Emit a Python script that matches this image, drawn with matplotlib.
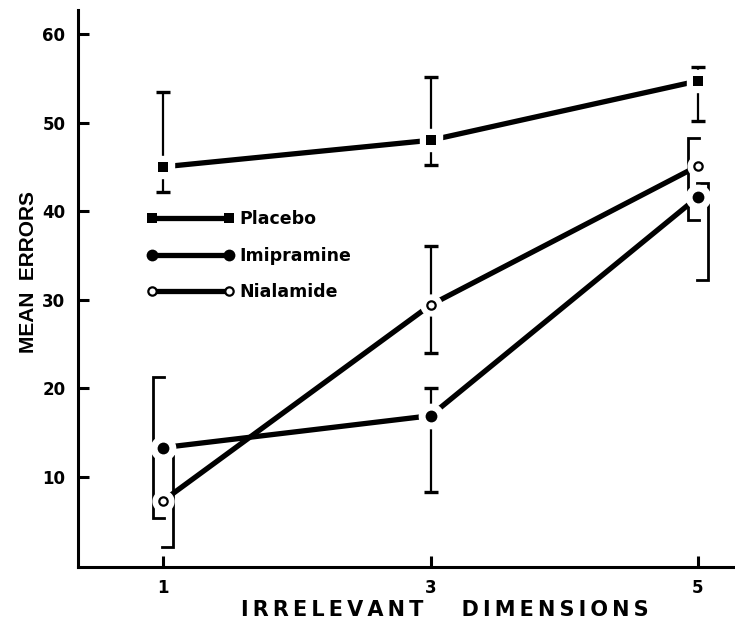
import numpy as np
import matplotlib
matplotlib.use("Agg")
import matplotlib.pyplot as plt
from matplotlib.lines import Line2D

plt.rcParams['font.family'] = ['DejaVu Sans']
plt.rcParams['font.weight'] = 'bold'

# values
dims = [1, 3, 5]

placebo = [45.0, 48.0, 54.7]
placebo_lo = [42.2, 45.2, 50.2]
placebo_hi = [53.4, 55.1, 56.3]

imip = [13.3, 16.9, 41.6]
imip_lo = [5.4, 8.3, 32.2]
imip_hi = [21.3, 20.0, 43.2]

nial = [7.3, 29.4, 45.1]
nial_lo = [2.1, 24.0, 39.0]
nial_hi = [12.4, 36.1, 48.3]

# how each error range is drawn: plain bar, or bracket opening left/right
imip_kind = ['left', 'bar', 'right']
nial_kind = ['right', 'bar', 'left']
placebo_kind = ['bar', 'bar', 'bar']

labels = ['Placebo', 'Imipramine', 'Nialamide']
yticks = [10, 20, 30, 40, 50, 60]

fig = plt.figure(figsize=(7.35, 6.29), dpi=100)
ax = fig.add_axes([0.106, 0.099, 0.894, 0.885])

LW = 3.8
mk = {
    'Placebo': dict(marker='s', ms=7.5, mfc='black', mec='black', mew=0),
    'Imipramine': dict(marker='o', ms=8.5, mfc='black', mec='black', mew=0),
    'Nialamide': dict(marker='o', ms=6.0, mfc='white', mec='black', mew=1.6),
}

off = 0.075   # bracket offset from point (data units)
arm = 0.085   # bracket arm length


def draw_err(x, y, lo, hi, kind):
    for xi, yi, l, h, k in zip(x, y, lo, hi, kind):
        if k == 'bar':
            ax.errorbar([xi], [yi], yerr=[[yi - l], [h - yi]], fmt='none',
                        ecolor='black', elinewidth=1.6, capsize=5,
                        capthick=2.4, zorder=2)
        else:
            if k == 'left':
                xv = xi - off
                xa = xv + arm
            else:
                xv = xi + off
                xa = xv - arm
            ax.plot([xa, xv, xv, xa], [h, h, l, l], color='black', lw=2.0,
                    solid_joinstyle='miter', zorder=2)


series = [(placebo, placebo_lo, placebo_hi, placebo_kind, 'Placebo'),
          (imip, imip_lo, imip_hi, imip_kind, 'Imipramine'),
          (nial, nial_lo, nial_hi, nial_kind, 'Nialamide')]

for y, lo, hi, kind, name in series:
    ax.plot(dims, y, color='black', lw=LW, solid_capstyle='butt', zorder=1)
    draw_err(dims, y, lo, hi, kind)
    # white halo so lines break around the points
    ax.plot(dims, y, ls='none', marker=mk[name]['marker'],
            ms=mk[name]['ms'] + 9, mfc='white', mec='white', zorder=3)
    ax.plot(dims, y, ls='none', zorder=4, **mk[name])

handles = [Line2D([0], [0], color='black', lw=LW, **mk[n]) for n in labels]
ax.legend(handles, labels, loc='upper left', bbox_to_anchor=(0.105, 0.641),
          frameon=False, numpoints=2, handlelength=5.0, handletextpad=0.35,
          labelspacing=1.08, borderpad=0, borderaxespad=0,
          prop=dict(family='DejaVu Sans', weight='bold', size=12.5))

ax.set_xlim(0.363, 5.277)
ax.set_ylim(-0.15, 62.7)
ax.set_xticks(dims)
ax.set_yticks(yticks)
ax.tick_params(direction='in', length=8, width=2.2, labelsize=12, pad=9)

for s in ['top', 'right']:
    ax.spines[s].set_visible(False)
for s in ['left', 'bottom']:
    ax.spines[s].set_linewidth(2.2)

ax.set_ylabel('MEAN  ERRORS', fontsize=15, family='Liberation Sans',
              fontweight='bold')
ax.yaxis.set_label_coords(-0.061, 0.53)
ax.set_xlabel('\u2009'.join('IRRELEVANT') + '\u2009\u2009   \u2009\u2009'
              + '\u2009'.join('DIMENSIONS'), fontsize=15, fontweight='bold')
ax.xaxis.set_label_coords(0.559, -0.06)

fig.savefig('out.png', dpi=100)
